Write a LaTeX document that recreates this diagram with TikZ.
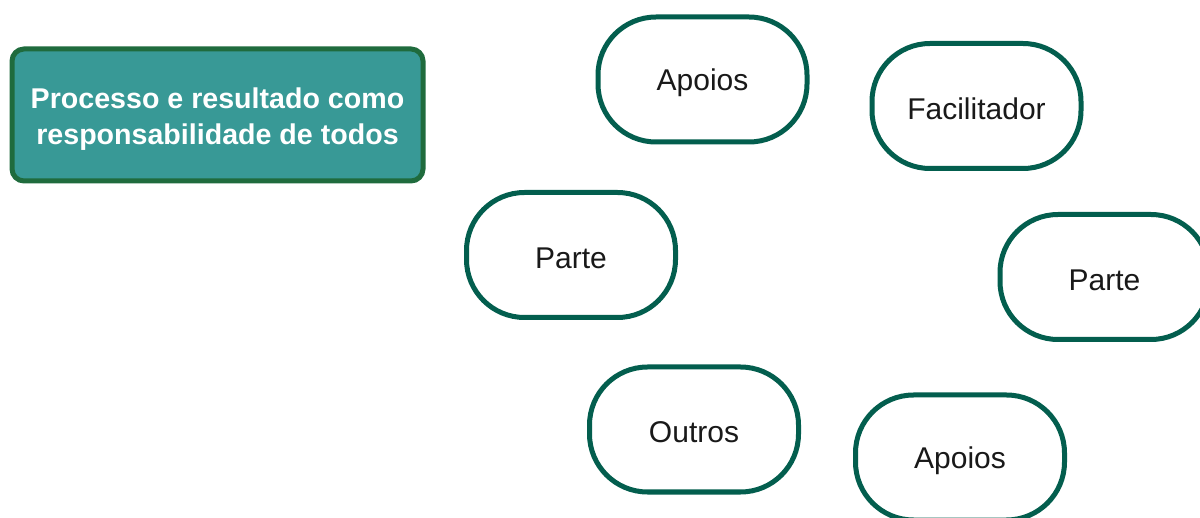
\documentclass[tikz,border=0pt]{standalone}
\usepackage{fontspec}
\setmainfont{Liberation Sans}
\definecolor{outl}{HTML}{035E4E}
\definecolor{tealfill}{HTML}{389996}
\definecolor{tealborder}{HTML}{1F6B3D}
\newcommand{\lowtxt}[1]{\raisebox{-3pt}[\height][\depth]{#1}}
\begin{document}
\begin{tikzpicture}[x=1pt,y=-1pt,
  pill/.style={draw=outl, line width=5pt, fill=white, rounded corners=58pt,
    minimum width=209pt, minimum height=125pt, inner sep=0pt,
    font=\fontsize{30}{34}\selectfont, text=black!90},
  titlebox/.style={draw=tealborder, line width=5pt, fill=tealfill, rounded corners=12pt,
    minimum width=411pt, minimum height=132pt, inner sep=0pt, align=center,
    font=\fontsize{28.6}{36}\selectfont\bfseries, text=white}]
\useasboundingbox (0,0) rectangle (1200,518);
\clip (0,0) rectangle (1200,518);
\node[titlebox] (title) at (217.5,115) {\raisebox{-4pt}[\height][\depth]{\parbox{400pt}{\centering Processo e resultado como\\responsabilidade de todos}}};
\node[pill] (apoios1) at (702.5,79.5) {\lowtxt{Apoios}};
\node[pill] (facil) at (976.5,106) {\lowtxt{Facilitador}};
\node[pill] (parte1) at (571,255) {\lowtxt{Parte}};
\node[pill] (parte2) at (1104.5,277) {\lowtxt{Parte}};
\node[pill] (outros) at (694,429.5) {\lowtxt{Outros}};
\node[pill] (apoios2) at (960,457.5) {\lowtxt{Apoios}};
\end{tikzpicture}
\end{document}
